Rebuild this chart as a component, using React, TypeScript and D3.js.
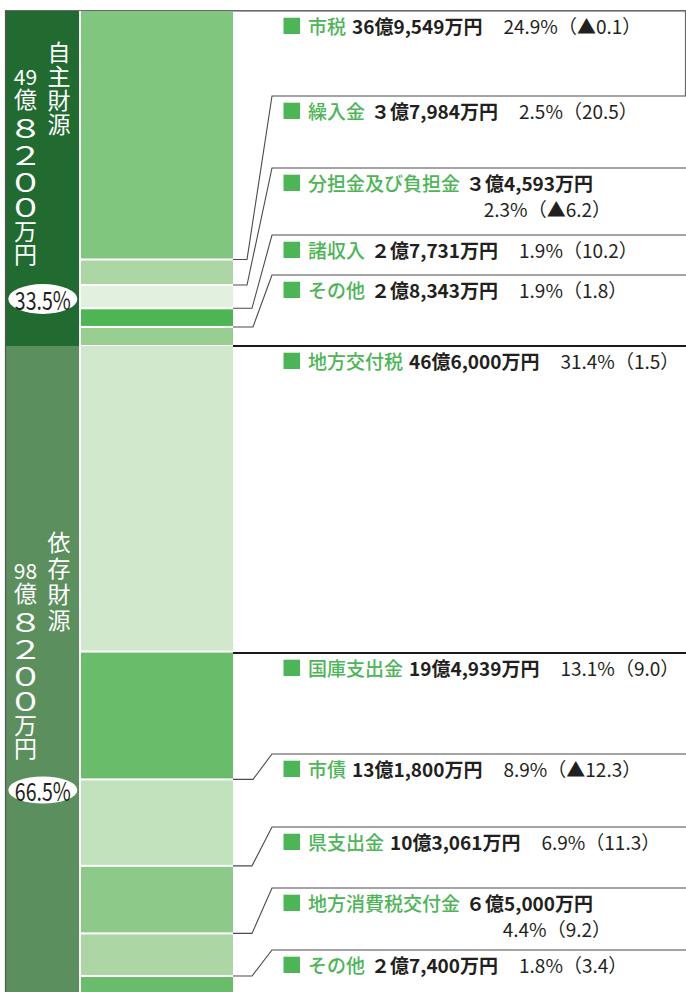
import React from "react";
import * as d3 from "d3";

// ---- data (万円) ----
const ownCategories = ["市税", "繰入金", "分担金及び負担金", "諸収入", "その他"];
const ownValues = [369549, 37984, 34593, 27731, 28343];
const ownAmounts = ["36億9,549万円", "３億7,984万円", "３億4,593万円", "２億7,731万円", "２億8,343万円"];
const ownShares = ["24.9%", "2.5%", "2.3%", "1.9%", "1.9%"];
const ownChanges = ["▲0.1", "20.5", "▲6.2", "10.2", "1.8"];

const depCategories = ["地方交付税", "国庫支出金", "市債", "県支出金", "地方消費税交付金", "その他"];
const depValues = [466000, 194939, 131800, 103061, 65000, 27400];
const depAmounts = ["46億6,000万円", "19億4,939万円", "13億1,800万円", "10億3,061万円", "６億5,000万円", "２億7,400万円"];
const depShares = ["31.4%", "13.1%", "8.9%", "6.9%", "4.4%", "1.8%"];
const depChanges = ["1.5", "9.0", "▲12.3", "11.3", "9.2", "3.4"];

const groupTitles = ["自主財源", "依存財源"];
const groupTotals = [["49", "億", "８", "２", "０", "０", "万", "円"], ["98", "億", "８", "２", "０", "０", "万", "円"]];
const groupShares = ["33.5%", "66.5%"];

// ---- styles / layout ----
const ownColors = ["#80c67f", "#acd6a4", "#e1f0df", "#4db553", "#98cf91"];
const depColors = ["#d2e8cd", "#69bd6a", "#c2e1bd", "#8dca89", "#acd7a5", "#69bd6a"];
const panelColors = ["#216b31", "#5b8f5d"];
const ownLabelY = [11, 96, 168, 235, 275];
const depLabelY = [346, 653, 754, 827, 888, 950];
const ownBendX = [0, 247, 247, 252, 253];
const depBendX = [0, 0, 253, 252, 252, 252];
const ownTwoLine = [false, false, true, false, false];
const depTwoLine = [false, false, false, false, true, false];
const totalOffsets = [0, 22, 51, 77.5, 104.5, 130, 154, 177];
const W = 686;
const H = 992;
const BAR_X0 = 81;
const BAR_X1 = 233;
const GREEN = "#4cb556";
const DARK = "#231f20";
const FONT = "'Noto Sans CJK JP', 'Noto Sans', sans-serif";

function Section(props: any) {
  const { cats, vals, amounts, shares, changes, colors, labelY, bendX, twoLine, y, heavy } = props;
  const cum: number[] = [];
  let acc = 0;
  vals.forEach((v: number) => {
    cum.push(acc);
    acc += v;
  });
  return (
    <g>
      {vals.map((v: number, i: number) => {
        const y0 = y(cum[i]);
        const y1 = y(cum[i] + v);
        const top = i === 0 ? y0 : y0 + 1;
        return <rect key={"r" + i} x={BAR_X0} y={top} width={BAR_X1 - BAR_X0} height={y1 - 1 - top} fill={colors[i]} />;
      })}
      {vals.map((v: number, i: number) => {
        const ys = y(cum[i]);
        const ly = labelY[i];
        const isHeavy = heavy.includes(i);
        const d = bendX[i]
          ? `M${BAR_X1},${ys}H${bendX[i]}L272,${ly}H${W}`
          : `M${BAR_X1},${ly}H${W}`;
        return (
          <path key={"l" + i} d={d} fill="none" stroke={isHeavy ? "#1a1a1a" : "#4a4a4a"} strokeWidth={isHeavy ? 1.8 : 1.1} />
        );
      })}
      {cats.map((c: string, i: number) => {
        const base = labelY[i] + 23;
        return (
          <g key={"t" + i} fontFamily={FONT} fontSize={19}>
            <rect x={283.5} y={base - 16.3} width={16.5} height={16.3} fill={GREEN} />
            <text x={308} y={base} fill={DARK}>
              <tspan fill={GREEN} fontWeight={500}>{c}</tspan>
              <tspan dx={6} fontWeight="bold">{amounts[i]}</tspan>
              {!twoLine[i] && (
                <>
                  <tspan dx={21}>{shares[i]}</tspan>
                  <tspan>{"（" + changes[i] + "）"}</tspan>
                </>
              )}
            </text>
            {twoLine[i] && (
              <text x={611} y={base + 25.5} fill={DARK} textAnchor="end">
                <tspan>{shares[i]}</tspan>
                <tspan>{"（" + changes[i] + "）"}</tspan>
              </text>
            )}
          </g>
        );
      })}
    </g>
  );
}

function Column(props: any) {
  const { chars, x, y0, offsets, step } = props;
  return (
    <g>
      {chars.map((c: string, i: number) => {
        const isDigitPair = c.length > 1;
        const isFull = /[０-９]/.test(c);
        const cy = y0 + (offsets ? offsets[i] : i * step);
        const fs = isDigitPair ? 21 : isFull ? 26 : 23;
        return (
          <text
            key={i}
            x={x}
            y={cy}
            textAnchor="middle"
            dominantBaseline="central"
            fill="#fff"
            fontFamily={FONT}
            fontSize={fs}
            transform={isFull ? `translate(${x},${cy}) scale(1.35,1) translate(${-x},${-cy})` : undefined}
          >
            {c}
          </text>
        );
      })}
    </g>
  );
}

export default function App() {
  const yOwn = d3.scaleLinear().domain([0, d3.sum(ownValues)]).range([11, 346]);
  const yDep = d3.scaleLinear().domain([0, d3.sum(depValues)]).range([346, 994]);

  return (
    <svg width={W} height={H} style={{ position: "absolute", left: 0, top: 0, background: "#fff" }}>
      <rect x={0} y={0} width={W} height={H} fill="#fff" />
      {/* group panels */}
      <rect x={6} y={11} width={73} height={335} fill={panelColors[0]} />
      <rect x={6} y={346} width={73} height={H - 346} fill={panelColors[1]} />

      <Column chars={groupTitles[0].split("")} x={59} y0={51} step={24} />
      <Column chars={groupTotals[0]} x={25.5} y0={76} offsets={totalOffsets} />
      <Column chars={groupTitles[1].split("")} x={59} y0={541} step={26} />
      <Column chars={groupTotals[1]} x={25.5} y0={570} offsets={totalOffsets} />

      <ellipse cx={42.8} cy={299} rx={34.5} ry={15} fill="#fff" />
      <text x={42.8} y={299} textAnchor="middle" dominantBaseline="central" fontFamily={FONT} fontSize={25} fill={DARK} textLength={56} lengthAdjust="spacingAndGlyphs">
        {groupShares[0]}
      </text>
      <ellipse cx={42.8} cy={790} rx={34.5} ry={13.5} fill="#fff" />
      <text x={42.8} y={790} textAnchor="middle" dominantBaseline="central" fontFamily={FONT} fontSize={25} fill={DARK} textLength={56} lengthAdjust="spacingAndGlyphs">
        {groupShares[1]}
      </text>

      <Section
        cats={ownCategories}
        vals={ownValues}
        amounts={ownAmounts}
        shares={ownShares}
        changes={ownChanges}
        colors={ownColors}
        labelY={ownLabelY}
        bendX={ownBendX}
        twoLine={ownTwoLine}
        y={yOwn}
        heavy={[]}
      />
      <Section
        cats={depCategories}
        vals={depValues}
        amounts={depAmounts}
        shares={depShares}
        changes={depChanges}
        colors={depColors}
        labelY={depLabelY}
        bendX={depBendX}
        twoLine={depTwoLine}
        y={yDep}
        heavy={[0, 1]}
      />

      {/* frame */}
      <line x1={5} y1={10.5} x2={W} y2={10.5} stroke="#6a6a6a" strokeWidth={1.2} />
      <line x1={5.5} y1={10.5} x2={5.5} y2={H} stroke="#555" strokeWidth={1.2} />
      <line x1={685.5} y1={10.5} x2={685.5} y2={96} stroke="#6a6a6a" strokeWidth={1.2} />
    </svg>
  );
}
